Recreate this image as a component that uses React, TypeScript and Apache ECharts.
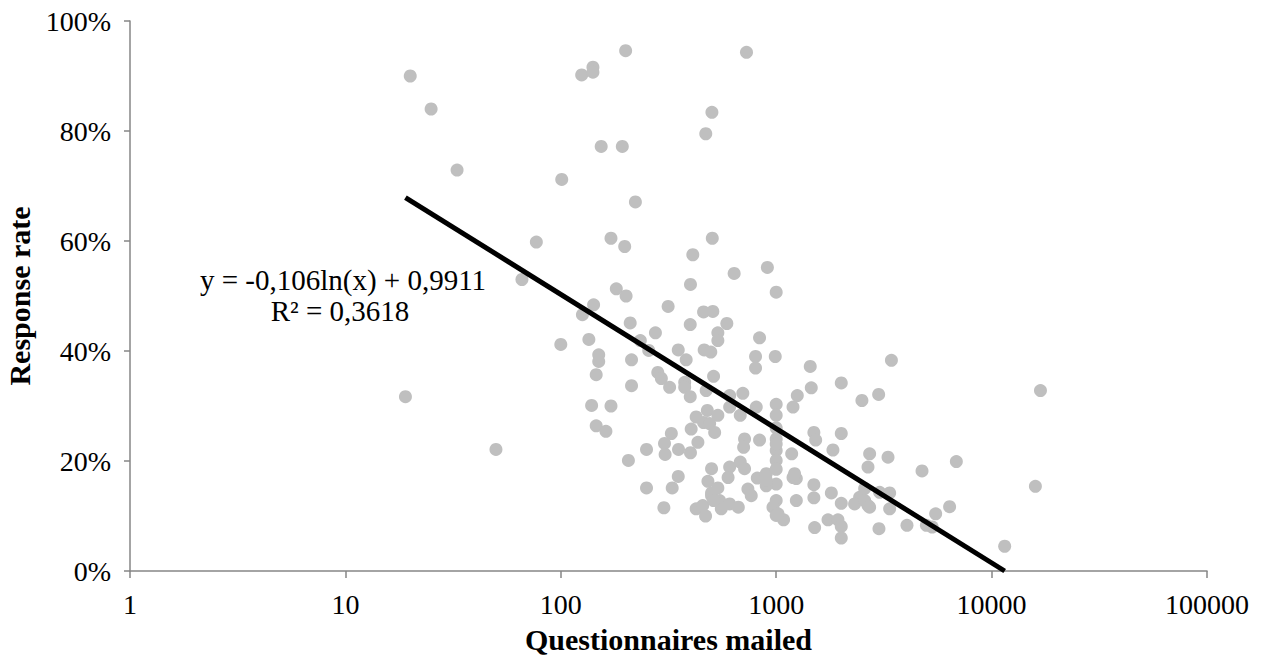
import React, { useEffect, useRef } from "react";
import * as echarts from "echarts";

// Questionnaires mailed (x) and response rate (y) for each study
const mailed: number[] = [
  20, 25, 33, 19, 50, 66, 77, 101, 100, 125,
  141, 141, 200, 728, 503, 471, 154, 193, 222, 171,
  198, 505, 410, 400, 638, 910, 1000, 181, 201, 142,
  126, 315, 460, 508, 210, 399, 590, 275, 234, 256,
  536, 536, 135, 150, 150, 146, 213, 213, 351, 382,
  463, 497, 837, 802, 990, 802, 282, 293, 320, 376,
  376, 399, 512, 473, 608, 700, 808, 1000, 1000, 1253,
  1197, 139, 171, 146, 162, 479, 425, 460, 536, 608,
  681, 403, 491, 518, 326, 303, 352, 400, 433, 305,
  250, 206, 713, 706, 837, 1000, 1000, 1180, 1000, 501,
  608, 681, 713, 598, 482, 536, 817, 899, 1000, 899,
  1197, 351, 329, 250, 739, 766, 501, 546, 1000, 1240,
  966, 301, 425, 470, 556, 608, 667, 1000, 1082, 456,
  1439, 1455, 2005, 3427, 2500, 2990, 16860, 1496, 1525, 2005,
  1834, 2715, 3305, 2668, 6860, 4753, 15970, 1240, 1496, 1496,
  1803, 2005, 2439, 2574, 2668, 3021, 3363, 3363, 2312, 1019,
  1508, 1740, 1935, 2005, 2005, 3000, 4047, 4980, 5500, 6383,
  11500, 1217, 5300, 1000, 1000, 1000, 501, 512, 2574, 2715,
  900,
];
const responseRate: number[] = [
  0.900, 0.840, 0.729, 0.317, 0.221, 0.530, 0.598, 0.712, 0.412, 0.902,
  0.916, 0.907, 0.946, 0.943, 0.834, 0.795, 0.772, 0.772, 0.671, 0.605,
  0.590, 0.605, 0.575, 0.521, 0.541, 0.552, 0.507, 0.513, 0.500, 0.484,
  0.466, 0.481, 0.471, 0.472, 0.451, 0.448, 0.450, 0.433, 0.419, 0.401,
  0.433, 0.419, 0.421, 0.393, 0.381, 0.357, 0.384, 0.337, 0.402, 0.384,
  0.402, 0.398, 0.424, 0.390, 0.390, 0.369, 0.361, 0.350, 0.334, 0.343,
  0.334, 0.317, 0.354, 0.328, 0.319, 0.323, 0.298, 0.303, 0.283, 0.319,
  0.298, 0.301, 0.300, 0.264, 0.254, 0.292, 0.280, 0.270, 0.283, 0.298,
  0.283, 0.258, 0.268, 0.252, 0.250, 0.232, 0.221, 0.215, 0.234, 0.212,
  0.221, 0.201, 0.240, 0.225, 0.238, 0.240, 0.219, 0.213, 0.201, 0.186,
  0.189, 0.198, 0.186, 0.170, 0.163, 0.151, 0.169, 0.177, 0.158, 0.155,
  0.170, 0.172, 0.151, 0.151, 0.149, 0.137, 0.137, 0.128, 0.128, 0.128,
  0.116, 0.115, 0.113, 0.100, 0.113, 0.122, 0.116, 0.101, 0.093, 0.119,
  0.372, 0.333, 0.342, 0.383, 0.310, 0.321, 0.328, 0.252, 0.238, 0.250,
  0.220, 0.213, 0.207, 0.189, 0.199, 0.182, 0.154, 0.168, 0.157, 0.133,
  0.142, 0.123, 0.134, 0.150, 0.119, 0.143, 0.142, 0.113, 0.122, 0.104,
  0.079, 0.093, 0.093, 0.081, 0.060, 0.077, 0.083, 0.083, 0.104, 0.117,
  0.045, 0.177, 0.080, 0.260, 0.231, 0.185, 0.142, 0.128, 0.128, 0.116,
  0.165,
];

// Logarithmic trend line end points: y = -0,106ln(x) + 0,9911
const trendX: number[] = [19, 11500];
const trendY: number[] = [0.679, 0.0];

const xTicks: number[] = [1, 10, 100, 1000, 10000, 100000];
const equationLines: string[] = ["y = -0,106ln(x) + 0,9911", "R² = 0,3618"];

const FONT = '"Liberation Serif", "Times New Roman", serif';
const LABEL_SIZE = 28;
const EQ_SIZE = 29;
const TITLE_SIZE = 30;

export default function App() {
  const ref = useRef<HTMLDivElement>(null);

  useEffect(() => {
    if (!ref.current) return;
    const chart = echarts.init(ref.current, undefined, { renderer: "svg" });
    const points = mailed.map((m, i) => [m, responseRate[i]]);
    const trend = trendX.map((x, i) => [x, trendY[i]]);
    chart.setOption({
      animation: false,
      backgroundColor: "#ffffff",
      grid: {
        left: 130,
        right: 54,
        top: 21,
        bottom: 86,
        containLabel: false,
        outerBoundsMode: "none",
      },
      xAxis: {
        type: "log",
        logBase: 10,
        min: xTicks[0],
        max: xTicks[xTicks.length - 1],
        name: "Questionnaires mailed",
        nameLocation: "middle",
        nameGap: 53,
        nameTextStyle: { fontFamily: FONT, fontWeight: "bold", fontSize: TITLE_SIZE, color: "#000" },
        axisLine: { show: true, lineStyle: { color: "#868686", width: 1.5 } },
        axisTick: { show: true, length: 7, lineStyle: { color: "#868686", width: 1.5 } },
        minorTick: { show: false },
        splitLine: { show: false },
        axisLabel: {
          margin: 19,
          fontFamily: FONT,
          fontSize: LABEL_SIZE,
          color: "#000",
          formatter: (v: number) => String(Math.round(v)),
        },
      },
      yAxis: {
        type: "value",
        min: 0,
        max: 1,
        interval: 0.2,
        name: "Response rate",
        nameLocation: "middle",
        nameGap: 86,
        nameTextStyle: { fontFamily: FONT, fontWeight: "bold", fontSize: TITLE_SIZE, color: "#000" },
        axisLine: { show: true, onZero: false, lineStyle: { color: "#868686", width: 1.5 } },
        axisTick: { show: true, length: 6, lineStyle: { color: "#868686", width: 1.5 } },
        splitLine: { show: false },
        axisLabel: {
          margin: 19,
          fontFamily: FONT,
          fontSize: LABEL_SIZE,
          color: "#000",
          formatter: (v: number) => Math.round(v * 100) + "%",
        },
      },
      series: [
        {
          type: "scatter",
          data: points,
          symbol: "circle",
          symbolSize: 13,
          itemStyle: { color: "#bfbfbf", opacity: 1 },
          z: 2,
        },
        {
          type: "line",
          data: trend,
          showSymbol: false,
          symbol: "none",
          lineStyle: { color: "#000000", width: 5 },
          z: 3,
        },
      ],
      graphic: [
        {
          type: "text",
          x: 343,
          y: 280,
          style: {
            text: equationLines[0],
            font: `${EQ_SIZE}px ${FONT}`,
            fill: "#000",
            textAlign: "center",
            textVerticalAlign: "middle",
          },
        },
        {
          type: "text",
          x: 340,
          y: 311,
          style: {
            text: equationLines[1],
            font: `${EQ_SIZE}px ${FONT}`,
            fill: "#000",
            textAlign: "center",
            textVerticalAlign: "middle",
          },
        },
      ],
    });
    return () => chart.dispose();
  }, []);

  return (
    <div
      ref={ref}
      style={{ position: "fixed", left: 0, top: 0, width: 1261, height: 657, background: "#fff" }}
    />
  );
}
